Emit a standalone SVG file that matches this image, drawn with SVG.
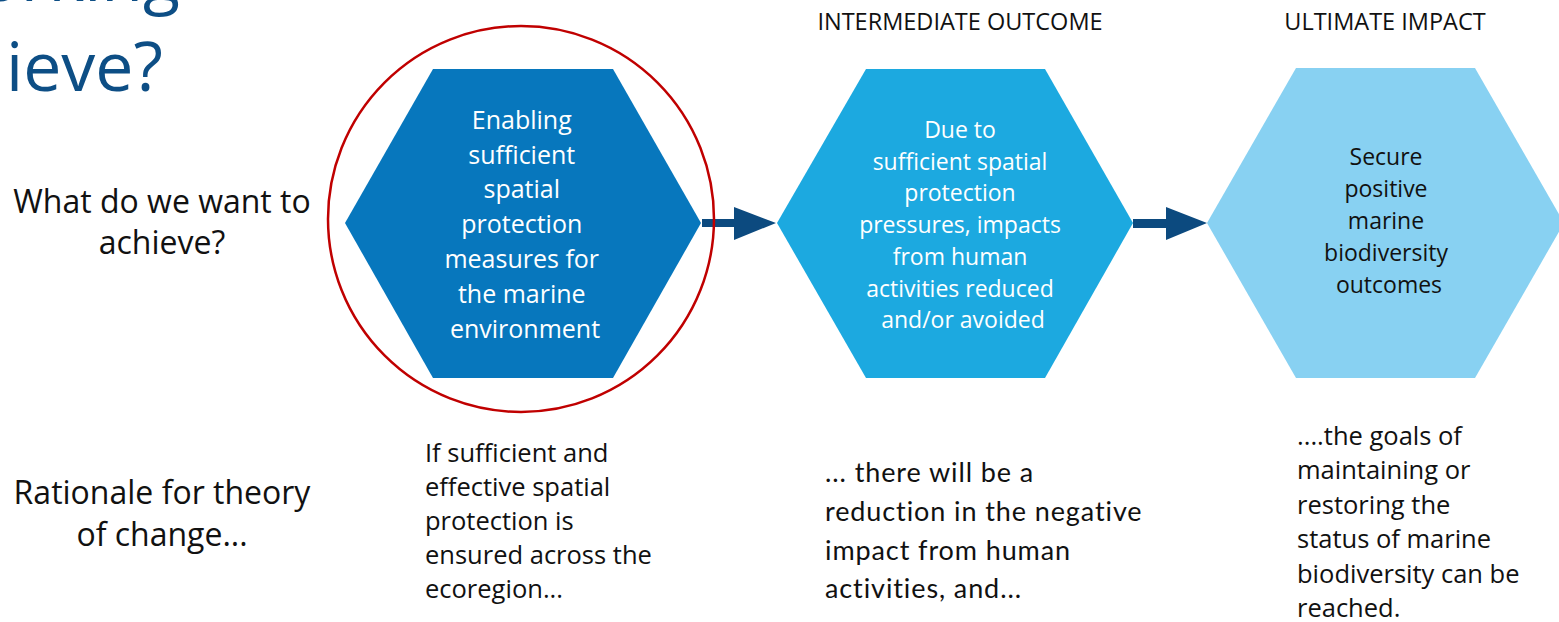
<svg xmlns="http://www.w3.org/2000/svg" width="1559" height="622" viewBox="0 0 1559 622">
  <style>
    .title { font-family: "Open Sans", "Noto Sans", sans-serif; font-size: 68px; fill: #0d4e85; }
    .side { font-family: "Open Sans", "Noto Sans", sans-serif; font-size: 32px; fill: #111111; text-anchor: middle; }
    .head { font-family: "Open Sans", "Noto Sans", sans-serif; font-size: 23.5px; fill: #111111; text-anchor: middle; }
    .hexw { font-family: "Open Sans", "Noto Sans", sans-serif; fill: #ffffff; text-anchor: middle; }
    .hexk { font-family: "Open Sans", "Noto Sans", sans-serif; fill: #111111; text-anchor: middle; }
    .note { font-family: "Open Sans", "Noto Sans", sans-serif; font-size: 25.5px; fill: #111111; }
    .note2 { font-family: Lato, "Open Sans", sans-serif; font-size: 27px; fill: #111111; letter-spacing: 0.9px; }
    .arrow { fill: #0c4a7f; }
  </style>

  <!-- slide title, clipped at the top edge -->
  <g id="title">
    <text class="title" x="180" y="1" text-anchor="end">orking</text>
    <text class="title" x="6" y="91">ieve?</text>
  </g>

  <!-- row labels -->
  <g id="row-labels">
    <text class="side" x="162" y="213">What do we want to</text>
    <text class="side" x="162" y="254">achieve?</text>
    <text class="side" x="162" y="504">Rationale for theory</text>
    <text class="side" x="162" y="546">of change...</text>
  </g>

  <!-- column headings -->
  <g id="headings">
    <text class="head" x="960" y="30">INTERMEDIATE OUTCOME</text>
    <text class="head" x="1385" y="30">ULTIMATE IMPACT</text>
  </g>

  <!-- step 1 -->
  <g id="node-enabling">
    <polygon points="345,223 433,69 613,69 701,223 613,378 433,378" fill="#0777bd"/>
    <text class="hexw" font-size="25">
      <tspan x="525" y="129">Enabling</tspan>
      <tspan x="525" y="164">sufficient</tspan>
      <tspan x="525" y="198">spatial</tspan>
      <tspan x="525" y="233">protection</tspan>
      <tspan x="525" y="268">measures for</tspan>
      <tspan x="525" y="303">the marine</tspan>
      <tspan x="525" y="338">environment</tspan>
    </text>
  </g>

  <!-- step 2 -->
  <g id="node-intermediate">
    <polygon points="777,223 866,69 1045,69 1133,223 1045,378 866,378" fill="#1ca9e0"/>
    <text class="hexw" font-size="23">
      <tspan x="963" y="138">Due to</tspan>
      <tspan x="963" y="170">sufficient spatial</tspan>
      <tspan x="963" y="201">protection</tspan>
      <tspan x="963" y="233">pressures, impacts</tspan>
      <tspan x="963" y="265">from human</tspan>
      <tspan x="963" y="297">activities reduced</tspan>
      <tspan x="963" y="328">and/or avoided</tspan>
    </text>
  </g>

  <!-- step 3 -->
  <g id="node-impact">
    <polygon points="1207,223 1296,68 1475,68 1564,223 1475,378 1296,378" fill="#88d1f2"/>
    <text class="hexk" font-size="23">
      <tspan x="1389" y="165">Secure</tspan>
      <tspan x="1389" y="197">positive</tspan>
      <tspan x="1389" y="229">marine</tspan>
      <tspan x="1389" y="261">biodiversity</tspan>
      <tspan x="1389" y="293">outcomes</tspan>
    </text>
  </g>

  <!-- block arrows between the steps -->
  <g id="connectors">
    <polygon class="arrow" points="702,219 734,219 734,207 776,223 734,240 734,227 702,227"/>
    <polygon class="arrow" points="1133,219 1166,219 1166,207 1207,223 1166,240 1166,228 1133,228"/>
  </g>

  <!-- rationale notes -->
  <g id="note-1">
    <text class="note">
      <tspan x="425" y="462">If sufficient and</tspan>
      <tspan x="425" y="496">effective spatial</tspan>
      <tspan x="425" y="530">protection is</tspan>
      <tspan x="425" y="564">ensured across the</tspan>
      <tspan x="425" y="598">ecoregion...</tspan>
    </text>
  </g>
  <g id="note-2">
    <text class="note2">
      <tspan x="825" y="482">... there will be a</tspan>
      <tspan x="825" y="521">reduction in the negative</tspan>
      <tspan x="825" y="560">impact from human</tspan>
      <tspan x="825" y="598">activities, and...</tspan>
    </text>
  </g>
  <g id="note-3">
    <text class="note">
      <tspan x="1297" y="445">....the goals of</tspan>
      <tspan x="1297" y="479">maintaining or</tspan>
      <tspan x="1297" y="514">restoring the</tspan>
      <tspan x="1297" y="548">status of marine</tspan>
      <tspan x="1297" y="583">biodiversity can be</tspan>
      <tspan x="1297" y="617">reached.</tspan>
    </text>
  </g>

  <!-- highlight ring around step 1 -->
  <circle id="highlight" cx="521" cy="219" r="193" fill="none" stroke="#c00000" stroke-width="2.5"/>
</svg>
